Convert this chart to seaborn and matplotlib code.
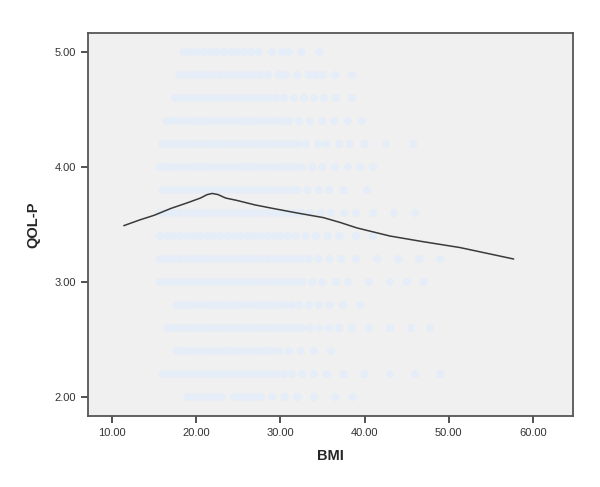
import numpy as np
import pandas as pd
import matplotlib
matplotlib.use("Agg")
import matplotlib.pyplot as plt
import seaborn as sns
from matplotlib.ticker import FormatStrFormatter

# QOL-P levels (rows of points) and the BMI values found on each row
row_500 = [18.5, 19.3, 20.1, 20.9, 21.7, 22.5, 23.3, 24.1, 24.9, 25.7, 26.5, 27.4, 29.0, 30.2, 31.0, 32.5, 34.6]
row_480 = [18.0, 18.8, 19.6, 20.4, 21.2, 22.0, 22.8, 23.6, 24.4, 25.2, 26.0, 26.8, 27.6, 28.5, 29.8, 30.6,
           32.0, 33.4, 34.2, 35.0, 36.5, 38.5]
row_460 = [17.5, 18.3, 19.1, 19.9, 20.7, 21.5, 22.3, 23.1, 23.9, 24.7, 25.5, 26.3, 27.1, 27.9, 28.7, 29.5,
           30.4, 31.6, 32.8, 34.0, 35.2, 36.6, 38.5]
row_440 = [16.5, 17.3, 18.1, 18.9, 19.7, 20.5, 21.3, 22.1, 22.9, 23.7, 24.5, 25.3, 26.1, 26.9, 27.7, 28.5,
           29.3, 30.1, 31.0, 32.2, 33.5, 35.0, 36.4, 38.0, 39.7]
row_420 = [16.0, 16.8, 17.6, 18.4, 19.2, 20.0, 20.8, 21.6, 22.4, 23.2, 24.0, 24.8, 25.6, 26.4, 27.2, 28.0,
           28.8, 29.6, 30.4, 31.2, 32.0, 33.0, 34.5, 35.5, 37.0, 38.2, 40.0, 42.5, 45.8]
row_400 = [15.7, 16.5, 17.3, 18.1, 18.9, 19.7, 20.5, 21.3, 22.1, 22.9, 23.7, 24.5, 25.3, 26.1, 26.9, 27.7,
           28.5, 29.3, 30.1, 30.9, 31.7, 32.6, 33.8, 35.0, 36.5, 38.0, 39.5, 41.0]
row_380 = [16.0, 16.8, 17.6, 18.4, 19.2, 20.0, 20.8, 21.6, 22.4, 23.2, 24.0, 24.8, 25.6, 26.4, 27.2, 28.0,
           28.8, 29.6, 30.4, 31.2, 32.0, 33.2, 34.6, 35.8, 37.5, 40.3]
row_360 = [15.7, 16.5, 17.3, 18.1, 18.9, 19.7, 20.5, 21.3, 22.1, 22.9, 23.7, 24.5, 25.3, 26.1, 26.9, 27.7,
           28.5, 29.3, 30.1, 30.9, 31.7, 32.5, 33.5, 34.8, 36.0, 37.6, 39.0, 41.0, 43.5, 46.0]
row_340 = [15.7, 16.5, 17.3, 18.1, 18.9, 19.7, 20.5, 21.3, 22.1, 22.9, 23.7, 24.5, 25.3, 26.1, 26.9, 27.7,
           28.5, 29.3, 30.1, 30.9, 31.8, 33.0, 34.2, 35.6, 37.0, 39.0, 41.0]
row_320 = [15.7, 16.5, 17.3, 18.1, 18.9, 19.7, 20.5, 21.3, 22.1, 22.9, 23.7, 24.5, 25.3, 26.1, 26.9, 27.7,
           28.5, 29.3, 30.1, 30.9, 31.7, 32.5, 33.4, 34.5, 35.8, 37.2, 39.0, 41.5, 44.0, 46.5, 49.0]
row_300 = [15.7, 16.5, 17.3, 18.1, 18.9, 19.7, 20.5, 21.3, 22.1, 22.9, 23.7, 24.5, 25.3, 26.1, 26.9, 27.7,
           28.5, 29.3, 30.1, 30.9, 31.7, 32.6, 33.8, 35.0, 36.6, 38.0, 40.5, 43.0, 45.0, 47.0]
row_280 = [17.7, 18.5, 19.3, 20.1, 20.9, 21.7, 22.5, 23.3, 24.1, 24.9, 25.7, 26.5, 27.3, 28.1, 28.9, 29.7,
           30.5, 31.3, 32.2, 33.4, 34.6, 35.8, 37.4, 39.5]
row_260 = [16.5, 17.3, 18.1, 18.9, 19.7, 20.5, 21.3, 22.1, 22.9, 23.7, 24.5, 25.3, 26.1, 26.9, 27.7, 28.5,
           29.3, 30.1, 30.9, 31.7, 32.5, 33.5, 34.6, 35.8, 37.0, 38.5, 40.5, 43.0, 45.5, 47.8]
row_240 = [17.7, 18.5, 19.3, 20.1, 20.9, 21.7, 22.5, 23.3, 24.1, 24.9, 25.7, 26.5, 27.3, 28.1, 28.9, 29.8,
           31.0, 32.4, 34.0, 36.0]
row_220 = [16.0, 16.8, 17.6, 18.4, 19.2, 20.0, 20.8, 21.6, 22.4, 23.2, 24.0, 24.8, 25.6, 26.4, 27.2, 28.0,
           28.8, 29.6, 30.4, 31.4, 32.6, 34.0, 35.5, 37.5, 40.0, 43.0, 46.0, 49.0]
row_200 = [19.0, 19.8, 20.6, 21.4, 22.2, 23.0, 24.5, 25.3, 26.1, 26.9, 27.7, 29.0, 30.5, 32.0, 34.0, 36.5, 38.6]

row_levels = [5.0, 4.8, 4.6, 4.4, 4.2, 4.0, 3.8, 3.6, 3.4, 3.2, 3.0, 2.8, 2.6, 2.4, 2.2, 2.0]
row_bmis = [row_500, row_480, row_460, row_440, row_420, row_400, row_380, row_360,
            row_340, row_320, row_300, row_280, row_260, row_240, row_220, row_200]

# Loess fit line
fit_bmi = [11.4, 13.3, 15.0, 17.0, 19.0, 20.5, 21.3, 21.9, 22.6, 23.5, 24.8, 27.0, 29.1, 32.0, 35.1,
           37.0, 39.1, 43.0, 47.0, 51.3, 54.5, 57.7]
fit_qol = [3.49, 3.54, 3.58, 3.64, 3.69, 3.73, 3.76, 3.77, 3.76, 3.73, 3.71, 3.67, 3.64, 3.60, 3.56,
           3.52, 3.47, 3.40, 3.35, 3.30, 3.25, 3.20]

points = pd.DataFrame({
    "BMI": [b for row in row_bmis for b in row],
    "QOL-P": [lvl for lvl, row in zip(row_levels, row_bmis) for _ in row],
})

sns.set_style("white")
plt.rcParams["font.family"] = ["Liberation Sans", "DejaVu Sans"]

fig = plt.figure(figsize=(6, 4.87), dpi=100)
fig.patch.set_facecolor("white")
ax = fig.add_axes([0.1467, 0.1458, 0.8083, 0.7864])
ax.set_facecolor("#f0f0f0")

sns.scatterplot(data=points, x="BMI", y="QOL-P", ax=ax, color="#e5edf8", s=34,
                edgecolor="none", alpha=1.0, zorder=2)
sns.lineplot(x=fit_bmi, y=fit_qol, ax=ax, color="#3a3a3a", linewidth=1.1, zorder=3)

ax.set_xlim(7.15, 64.75)
ax.set_ylim(1.835, 5.165)
ax.set_xticks([10, 20, 30, 40, 50, 60])
ax.set_yticks([2, 3, 4, 5])
ax.xaxis.set_major_formatter(FormatStrFormatter("%.2f"))
ax.yaxis.set_major_formatter(FormatStrFormatter("%.2f"))
ax.tick_params(axis="both", direction="out", length=5, width=1.2, color="#333333",
               labelsize=8, labelcolor="#333333", bottom=True, left=True)
for sp in ax.spines.values():
    sp.set_color("#555555")
    sp.set_linewidth(1.3)

ax.set_xlabel("BMI", fontsize=10.5, fontweight="bold", labelpad=8)
ax.set_ylabel("QOL-P", fontsize=10.5, fontweight="bold", labelpad=10)

fig.savefig("out.png", dpi=100)
